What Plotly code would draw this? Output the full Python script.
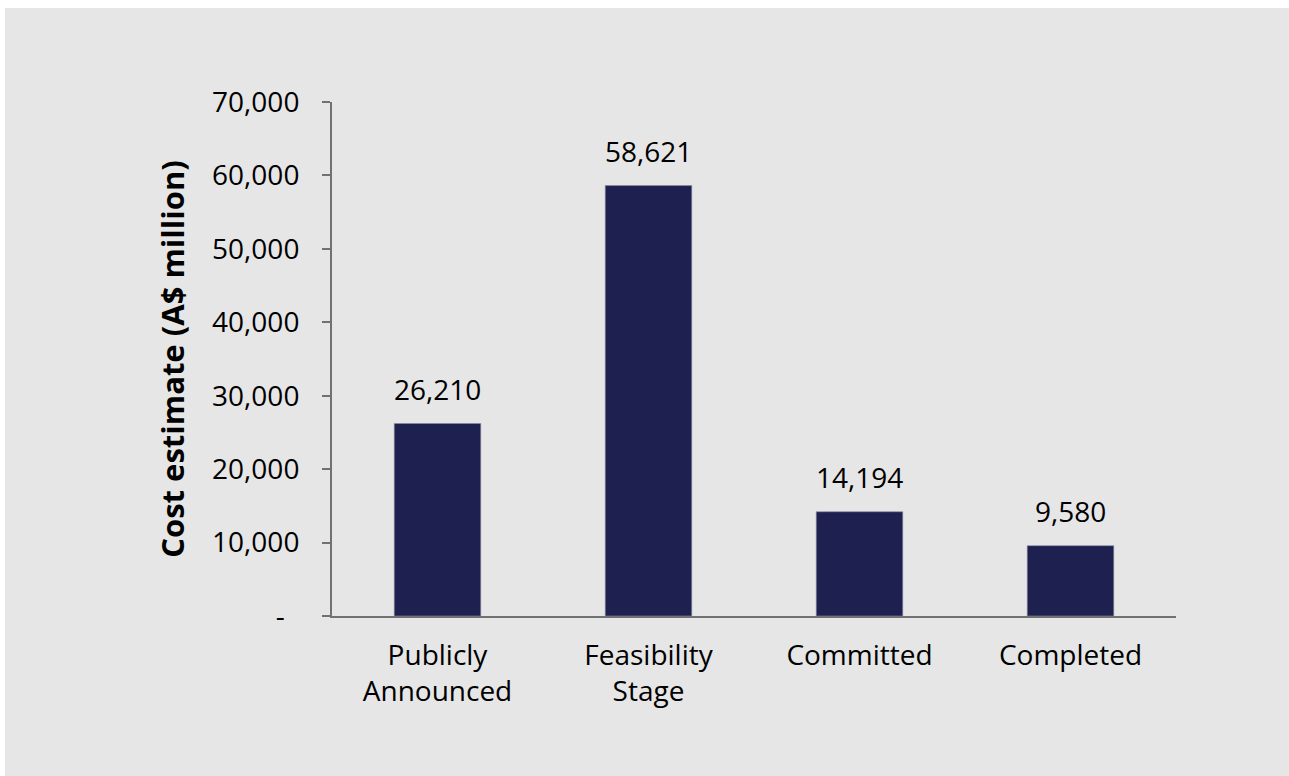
import plotly.graph_objects as go

categories = ["Publicly<br>Announced", "Feasibility<br>Stage", "Committed", "Completed"]
values = [26210, 58621, 14194, 9580]
value_labels = ["26,210", "58,621", "14,194", "9,580"]
tick_vals = [0, 10000, 20000, 30000, 40000, 50000, 60000, 70000]
tick_text = ["-\u00a0\u00a0", "10,000", "20,000", "30,000", "40,000", "50,000", "60,000", "70,000"]

BG = "#e6e6e6"
AX = "#717171"
FONT = "Open Sans"
FS = 28

fig = go.Figure()
fig.add_trace(go.Bar(
    x=categories, y=values,
    marker=dict(color="#1e2050", line=dict(color="#8a8ca0", width=0.6)),
    width=0.41,
    hoverinfo="skip",
))

for c, v, t in zip(categories, values, value_labels):
    fig.add_annotation(x=c, y=v, text=t, showarrow=False, yanchor="bottom",
                       yshift=14, font=dict(family=FONT, size=FS, color="black"))

W, H = 1300, 790
ml, mt = 327, 94
mr = W - 1171
mb = H - 608

fig.update_layout(
    width=W, height=H,
    margin=dict(l=ml, r=mr, t=mt, b=mb),
    paper_bgcolor=BG, plot_bgcolor=BG,
    showlegend=False,
    font=dict(family=FONT, size=FS, color="black"),
    xaxis=dict(
        showline=True, linecolor=AX, linewidth=2,
        ticks="outside", ticklen=13, tickcolor=BG, tickwidth=1,
        showgrid=False, zeroline=False,
        tickfont=dict(family=FONT, size=FS, color="black"),
    ),
    yaxis=dict(
        range=[0, 70000],
        tickvals=tick_vals, ticktext=tick_text,
        showline=True, linecolor=AX, linewidth=2,
        ticks="outside", ticklen=8, tickcolor=AX, tickwidth=2,
        ticklabelstandoff=17,
        showgrid=False, zeroline=False,
        tickfont=dict(family=FONT, size=FS, color="black"),
        title=dict(text="<b>Cost estimate (A$ million)</b>",
                   font=dict(family=FONT, size=31, color="black"),
                   standoff=18),
    ),
)

fig.write_html(
    "out.html",
    post_script=(
        "document.documentElement.style.background='#e6e6e6';"
        "document.body.style.margin='0';"
        "document.body.style.padding='8px 0 0 5px';"
        "document.body.style.background='white';"
        "document.body.style.overflow='hidden';"
    ),
)
